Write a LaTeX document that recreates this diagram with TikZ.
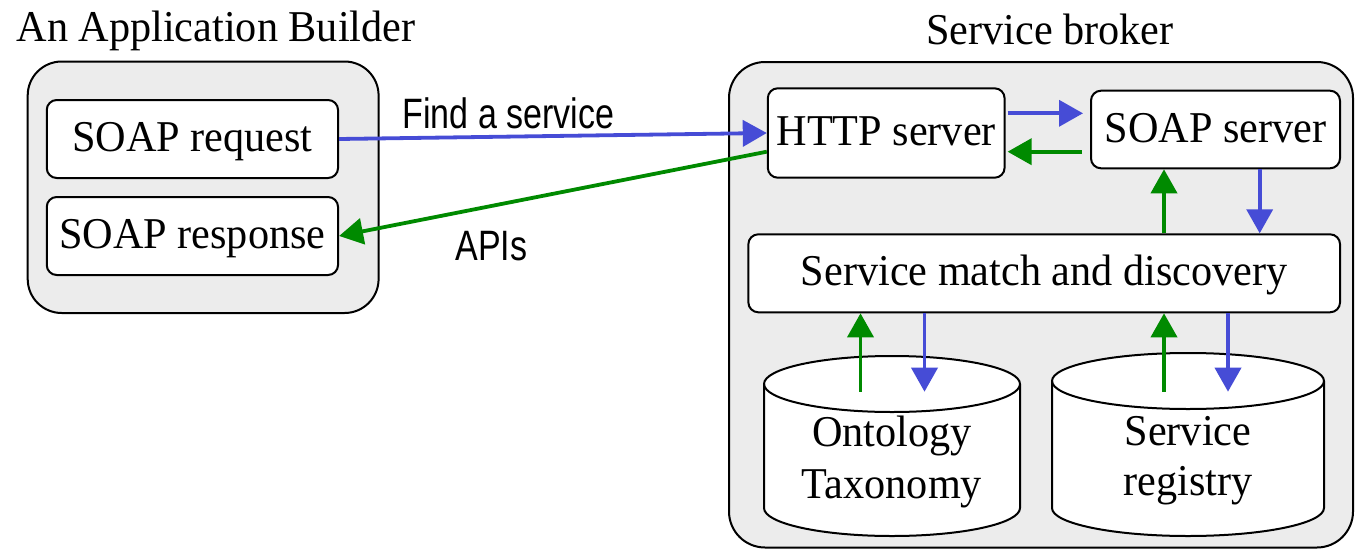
\documentclass[tikz,border=0pt]{standalone}
\usepackage{fontspec}
\setmainfont[FakeStretch=0.96]{Liberation Serif}
\newfontfamily\flowsans[FakeStretch=0.8]{Liberation Sans}
\usetikzlibrary{arrows.meta}
\definecolor{panelgray}{RGB}{236,236,236}
\definecolor{reqblue}{RGB}{70,76,214}
\definecolor{respgreen}{RGB}{0,138,0}
\begin{document}
\begin{tikzpicture}[x=1pt,y=-1pt,
  serif/.style={font=\fontsize{44}{50}\selectfont, inner sep=0pt},
  sanslabel/.style={font=\flowsans\fontsize{42.5}{50}\selectfont, inner sep=0pt},
  panel/.style={draw, line width=2pt, fill=panelgray, rounded corners=34pt, inner sep=0pt},
  box/.style={draw, line width=2pt, fill=white, rounded corners=10pt, inner sep=0pt,
    font=\fontsize{44}{50}\selectfont, text height=25pt, text depth=0pt},
  cyl/.style={line width=2pt, draw=black, fill=white},
  flow/.style={line width=3.8pt, -{Triangle[length=24pt,width=26pt]}}]
\useasboundingbox (0,0) rectangle (1355,549);

% titles
\node[serif, anchor=base] (buildertitle) at (216,41.7) {An Application Builder};
\node[serif, anchor=base] (brokertitle) at (1050,44) {Service broker};

% container panels
\node[panel, minimum width=350.9pt, minimum height=251.5pt] (builder) at (203.15,187.25) {};
\node[panel, rounded corners=36pt, minimum width=624pt, minimum height=485.5pt] (broker) at (1041,304.75) {};

% client side
\node[box, minimum width=291.3pt, minimum height=78pt] (req) at (192.4,139) {SOAP request};
\node[box, minimum width=291.3pt, minimum height=78pt] (resp) at (192.4,236) {SOAP response};

% broker components
\node[box, minimum width=236.8pt, minimum height=89.4pt] (http) at (886.2,133) {HTTP server};
\node[box, minimum width=249pt, minimum height=77.6pt] (soap) at (1215.5,129.5) {SOAP server};
\node[box, minimum width=591.7pt, minimum height=78pt] (match) at (1044.2,273.3) {Service match and discovery};

% databases
\filldraw[cyl] (764,384) -- (764,508)
  arc[start angle=180,end angle=360,x radius=128pt,y radius=28pt] -- (1020,384)
  arc[start angle=0,end angle=180,x radius=128pt,y radius=28pt] -- cycle;
\draw[cyl, fill=none] (764,384) arc[start angle=180,end angle=360,x radius=128pt,y radius=28pt];
\filldraw[cyl] (1052,381) -- (1052,508)
  arc[start angle=180,end angle=360,x radius=136pt,y radius=28pt] -- (1324,381)
  arc[start angle=0,end angle=180,x radius=136pt,y radius=28pt] -- cycle;
\draw[cyl, fill=none] (1052,381) arc[start angle=180,end angle=360,x radius=136pt,y radius=28pt];

\node[serif, anchor=base] (ont1) at (892,446.7) {Ontology};
\node[serif, anchor=base] (ont2) at (892,498) {Taxonomy};
\node[serif, anchor=base] (reg1) at (1188,445) {Service};
\node[serif, anchor=base] (reg2) at (1188,495) {registry};
\coordinate (ontin) at (892,391.7);
\coordinate (regin) at (1188,391.7);

% message labels
\node[sanslabel, anchor=base] (findlbl) at (508.3,128.3) {Find a service};
\node[sanslabel, anchor=base] (apilbl) at (491.5,260) {APIs};

% request flow (blue) and response flow (green)
\draw[flow, reqblue] (req.east) -- (http.west);
\draw[flow, respgreen] ([yshift=-18.7pt]http.west) -- (resp.east);
\draw[flow, reqblue] ([xshift=2pt,yshift=19.7pt]http.east) -- ([xshift=-7pt,yshift=16.2pt]soap.west);
\draw[flow, respgreen] ([xshift=-8pt,yshift=-22.2pt]soap.west) -- ([xshift=2pt,yshift=-18.7pt]http.east);
\draw[flow, respgreen] ([xshift=-51.5pt]soap.south |- match.north) -- ([xshift=-51.5pt]soap.south);
\draw[flow, reqblue] ([xshift=44.2pt]soap.south) -- ([xshift=44.2pt]soap.south |- match.north);
\draw[flow, respgreen] ([xshift=-31.5pt]ontin) -- ([xshift=-31.5pt]ontin |- match.south);
\draw[flow, reqblue] ([xshift=32.5pt]ontin |- match.south) -- ([xshift=32.5pt]ontin);
\draw[flow, respgreen] ([xshift=-24pt]regin) -- ([xshift=-24pt]regin |- match.south);
\draw[flow, reqblue] ([xshift=40pt]regin |- match.south) -- ([xshift=40pt]regin);
\end{tikzpicture}
\end{document}
